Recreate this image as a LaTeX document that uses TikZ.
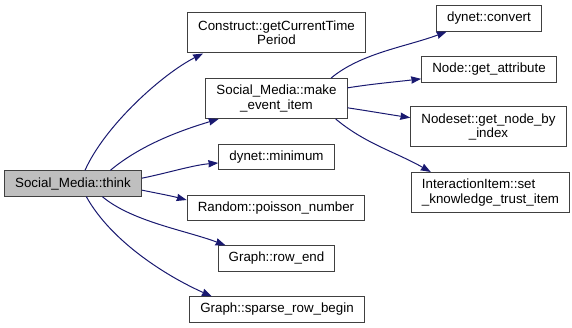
\documentclass[tikz,border=0pt]{standalone}
\usepackage{fontspec}
\setmainfont{Liberation Sans}
\usetikzlibrary{arrows.meta}
\definecolor{edgeblue}{RGB}{25,25,112}
\definecolor{boxgray}{RGB}{64,64,64}
\definecolor{rootgray}{RGB}{191,191,191}

\begin{document}
\begin{tikzpicture}[
  x=0.75pt, y=-0.75pt,
  every node/.style={font=\fontsize{10}{10.8}\selectfont},
  func/.style={draw=boxgray, fill=white, line width=0.75pt,
    align=center, inner xsep=8pt, inner ysep=2pt, minimum height=19pt},
  tall/.style={minimum height=30pt},
  root/.style={func, fill=rootgray},
  arr/.style={-{Stealth[length=7.5pt,width=5.5pt,inset=0.5pt]},
    draw=edgeblue, line width=0.75pt},
]
\useasboundingbox (0,0) rectangle (572,328);

% caller
\node[root] at (73,183.5) (think) {Social\_Media::think};

% direct callees
\node[func,tall] at (276.5, 33)  (getTime)   {Construct::getCurrentTime\\Period};
\node[func,tall] at (276.5, 98.5) (makeEvent) {Social\_Media::make\\\_event\_item};
\node[func] at (276.5,157)   (minimum)     {dynet::minimum};
\node[func] at (276,208)     (poisson)     {Random::poisson\_number};
\node[func] at (276.5,258.5) (rowEnd)      {Graph::row\_end};
\node[func] at (277,309.5)   (sparseBegin) {Graph::sparse\_row\_begin};

% called from make_event_item
\node[func] at (489,18.5)      (convert)   {dynet::convert};
\node[func] at (489,69.5)      (getAttr)   {Node::get\_attribute};
\node[func,tall] at (488.5,127) (nodeByIdx) {Nodeset::get\_node\_by\\\_index};
\node[func,tall,align=left] at (490.5,192.5) (setTrust) {InteractionItem::set\\\_knowledge\_trust\_item};

\draw[arr] ([xshift=9pt]think.north) .. controls +(20,-45) and +(-40,20) .. ([xshift=12pt]getTime.south west);
\draw[arr] ([xshift=28pt]think.north) .. controls +(30,-25) and +(-40,12) .. ([xshift=10pt]makeEvent.south west);
\draw[arr] ([yshift=4pt]think.east) .. controls +(25,-5) and +(-25,2) .. ([yshift=-4.5pt]minimum.west);
\draw[arr] ([yshift=-5pt]think.east) .. controls +(15,3) and +(-15,-4) .. ([yshift=6pt]poisson.west);
\draw[arr] ([xshift=22pt]think.south) .. controls +(30,25) and +(-40,-15) .. ([xshift=6pt]rowEnd.north west);
\draw[arr] ([xshift=10pt]think.south) .. controls +(25,45) and +(-45,-20) .. ([xshift=17pt]sparseBegin.north west);

\draw[arr] ([xshift=41pt]makeEvent.north) .. controls +(30,-25) and +(-40,15) .. ([xshift=8pt]convert.south west);
\draw[arr] ([yshift=8pt]makeEvent.east) .. controls +(25,-4) and +(-25,3) .. ([yshift=-7pt]getAttr.west);
\draw[arr] ([yshift=-7pt]makeEvent.east) .. controls +(20,3) and +(-20,-3) .. ([yshift=7pt]nodeByIdx.west);
\draw[arr] ([xshift=-9pt]makeEvent.south east) .. controls +(30,25) and +(-35,-20) .. ([xshift=15pt]setTrust.north west);
\end{tikzpicture}
\end{document}
